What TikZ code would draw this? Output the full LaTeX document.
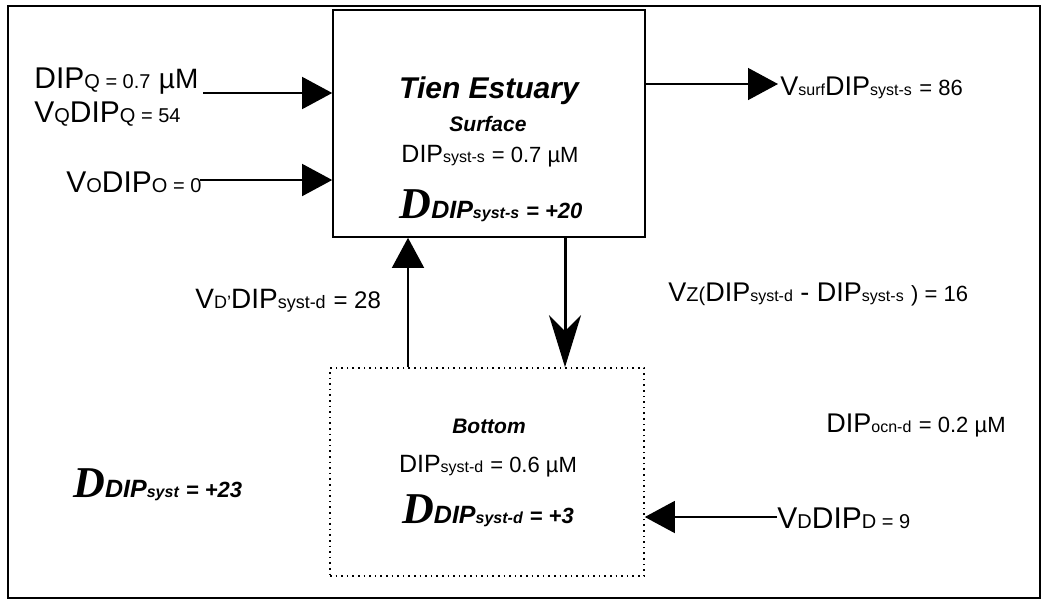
\documentclass[tikz,border=0pt]{standalone}
\usepackage{fontspec}
\setmainfont{Liberation Sans}
\newfontfamily\deltafont{Liberation Serif}
\usetikzlibrary{arrows.meta, positioning, calc}

\newcommand{\sm}[1]{{\fontsize{8}{8}\selectfont #1}}
\newcommand{\smm}[1]{{\fontsize{10}{10}\selectfont #1}}
\newcommand{\md}[1]{{\fontsize{11}{11}\selectfont #1}}
\newcommand{\bigD}{{\deltafont\bfseries\itshape\fontsize{22}{22}\selectfont D}}

\begin{document}
\begin{tikzpicture}[x=0.5pt,y=-0.5pt]
      \tikzset{ frame/.style  ={draw=black, line width=1.2pt} }
      \tikzset{ surfbox/.style={draw=black, line width=0.8pt, minimum width=156pt, minimum height=113.5pt, inner sep=0pt} }
      \tikzset{ botbox/.style ={draw=black, dotted, line width=0.8pt, minimum width=157pt, minimum height=104pt, inner sep=0pt} }
      \tikzset{ lbl/.style    ={inner sep=0pt, font=\fontsize{13.5}{13.5}\selectfont} }
      \tikzset{ biglbl/.style ={inner sep=0pt, font=\fontsize{15}{15}\selectfont} }
      \tikzset{ blbl/.style   ={inner sep=0pt, font=\fontsize{12.5}{12.5}\selectfont} }
      \tikzset{ flow/.style   ={line width=0.7pt, -{Triangle[length=15pt,width=16pt]}} }
      \tikzset{ mix/.style    ={line width=1.5pt, -{Stealth[length=26pt,width=16pt,inset=8pt]}} }

      \useasboundingbox (0,0) rectangle (1045,601);
      \draw[frame] (8,6) rectangle (1040,598);

      % boxes
      \node[surfbox] (surf) at (489,123.5) {};
      \node[botbox ] (bot)  at (487,472.0) {};

      % surface box text
      \node[inner sep=0pt, anchor=base, font=\bfseries\itshape\fontsize{15}{15}\selectfont] (title) at (489,98) {Tien Estuary};
      \node[inner sep=0pt, anchor=base, font=\bfseries\itshape\fontsize{10.5}{10.5}\selectfont] (surflbl) at (488,131) {Surface};
      \node[blbl, anchor=base] (dips) at (490,162) {DIP\sm{syst-s} \md{= 0.7 µM}};
      \node[blbl, anchor=base, font=\bfseries\itshape\fontsize{12.5}{12.5}\selectfont] (ddips) at (491,218) {\bigD DIP\sm{syst-s} \md{= +20}};

      % bottom box text
      \node[inner sep=0pt, anchor=base, font=\bfseries\itshape\fontsize{10.5}{10.5}\selectfont] (botlbl) at (489,433) {Bottom};
      \node[blbl, anchor=base] (dipd) at (488,472) {DIP\sm{syst-d} \md{= 0.6 µM}};
      \node[blbl, anchor=base, font=\bfseries\itshape\fontsize{12.5}{12.5}\selectfont] (ddipd) at (488,523) {\bigD DIP\sm{syst-d} \md{= +3}};

      % outside labels
      \node[biglbl, anchor=base west] (dipq)  at ( 34, 88) {DIP\smm{Q = 0.7} {\fontsize{14}{14}\selectfont µM}};
      \node[biglbl, anchor=base west] (vqdip) at ( 34,122) {V\smm{Q}DIP\smm{Q = 54}};
      \node[biglbl, anchor=base west] (vodip) at ( 66,192) {V\smm{O}DIP\smm{O = 0}};
      \node[lbl,    anchor=base west] (vsurf) at (780, 95) {V\sm{surf}DIP\sm{syst-s} \md{= 86}};
      \node[inner sep=0pt, anchor=base west, font=\fontsize{14}{14}\selectfont] (vdp) at (195,308) {V{\fontsize{9}{9}\selectfont D'}DIP{\fontsize{9}{9}\selectfont syst-d} {\fontsize{12}{12}\selectfont = 28}};
      \node[lbl,    anchor=base west] (vz)    at (668,301) {V{\fontsize{10}{10}\selectfont Z(}DIP\sm{syst-d} - DIP\sm{syst-s} \md{) = 16}};
      \node[lbl,    anchor=base west] (ocn)   at (826,432) {DIP\sm{ocn-d} \md{= 0.2 µM}};
      \node[biglbl, anchor=base west] (vddip) at (777,528) {V\smm{D}DIP\smm{D = 9}};
      \node[blbl, anchor=base west, font=\bfseries\itshape\fontsize{12.5}{12.5}\selectfont] (ddipsys) at (73,497) {\bigD DIP\sm{syst} \md{= +23}};

      % flows
      \coordinate (qin)  at (203, 93);
      \coordinate (oin)  at (200,180);
      \coordinate (sout) at (778, 84);
      \coordinate (din)  at (777,517);
      \coordinate (upx)  at (408,  0);
      \coordinate (dnx)  at (565,  0);

      \draw[flow] (qin) -- (qin -| surf.west);
      \draw[flow] (oin) -- (oin -| surf.west);
      \draw[flow] (sout -| surf.east) -- (sout);
      \draw[flow] (din) -- (din -| bot.east);
      \draw[flow] (upx |- bot.north) -- (upx |- surf.south);
      \draw[mix ] (dnx |- surf.south) -- (dnx |- bot.north);
\end{tikzpicture}
\end{document}
